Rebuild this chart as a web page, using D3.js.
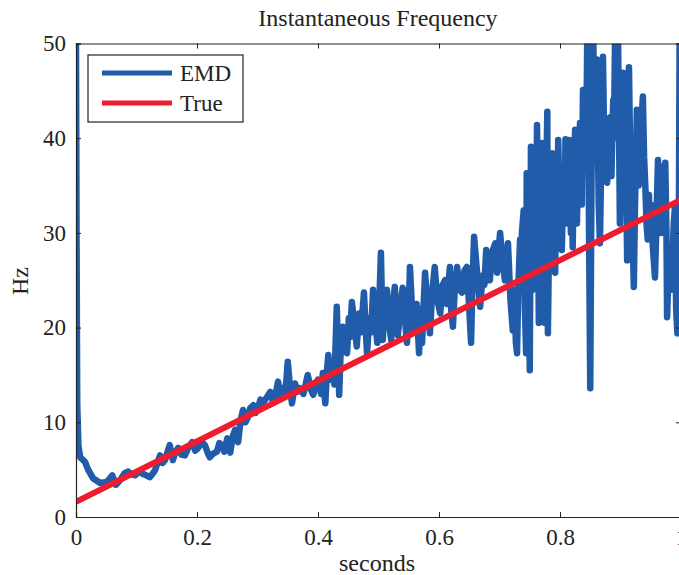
<!DOCTYPE html>
<html>
<head>
<meta charset="utf-8">
<script src="https://cdn.jsdelivr.net/npm/d3@7"></script>
<style>
  body { margin: 0; background: #fff; }
  svg text { font-family: "Liberation Serif", "Times New Roman", serif; fill: #222; }
</style>
</head>
<body>
<svg id="chart" width="679" height="575"></svg>
<script>
// tick labels
const xTicks = [0, 0.2, 0.4, 0.6, 0.8, 1];
const yTicks = [0, 10, 20, 30, 40, 50];

// true frequency: straight line, [seconds, Hz] at both ends
const trueLine = [[0, 1.6], [1, 33.5]];

// EMD instantaneous frequency, [seconds, Hz]
const emdStart = [
  [0.000, 50.0], [0.001, 28.0], [0.002, 12.0], [0.004, 7.5], [0.007, 6.3],
  [0.012, 6.0], [0.015, 5.8], [0.020, 5.0], [0.028, 4.1], [0.040, 3.6],
  [0.051, 3.7], [0.060, 4.4], [0.066, 3.4], [0.073, 3.9], [0.080, 4.6],
  [0.086, 4.8], [0.092, 4.5], [0.098, 4.4], [0.104, 4.8], [0.109, 4.6],
  [0.116, 4.4], [0.122, 4.2], [0.127, 4.6], [0.131, 5.0], [0.135, 5.8],
  [0.139, 6.5], [0.143, 5.7], [0.147, 6.0], [0.151, 6.8], [0.155, 7.6],
  [0.160, 6.0], [0.164, 6.8], [0.169, 7.3], [0.174, 6.6], [0.180, 6.5],
  [0.186, 7.4], [0.192, 7.9], [0.197, 7.0], [0.202, 7.3], [0.208, 7.9],
  [0.213, 7.6], [0.217, 6.9], [0.221, 6.3], [0.227, 6.7], [0.233, 6.9],
  [0.237, 7.8], [0.241, 7.6], [0.245, 6.9], [0.250, 8.3], [0.255, 6.8],
  [0.259, 8.5], [0.263, 9.2], [0.268, 7.9], [0.272, 10.2], [0.276, 11.3],
  [0.280, 10.0], [0.284, 10.5], [0.288, 11.5], [0.293, 11.8], [0.297, 11.0],
  [0.301, 11.6], [0.305, 12.4], [0.309, 12.1], [0.315, 12.6], [0.321, 13.2],
  [0.325, 12.3], [0.329, 12.7], [0.334, 14.3], [0.338, 12.8], [0.342, 13.6],
  [0.346, 13.0], [0.350, 16.4], [0.354, 13.5], [0.357, 12.0], [0.362, 14.1],
  [0.366, 13.2], [0.370, 13.6], [0.376, 13.0], [0.383, 15.0], [0.388, 13.5],
  [0.392, 12.9], [0.396, 13.8]
];
const emdMid = [
  [0.400, 14.5], [0.405, 13.0], [0.408, 15.2], [0.412, 12.0], [0.415, 15.5],
  [0.417, 17.1], [0.420, 14.5], [0.423, 16.0], [0.427, 14.0], [0.431, 22.2],
  [0.433, 18.0], [0.435, 12.9], [0.438, 18.5], [0.441, 20.1], [0.444, 17.5],
  [0.448, 17.3], [0.451, 21.0], [0.453, 19.0], [0.456, 22.7], [0.460, 20.5],
  [0.464, 18.0], [0.468, 21.5], [0.471, 19.5], [0.476, 23.7], [0.478, 21.0],
  [0.481, 17.3], [0.485, 21.0], [0.488, 19.5], [0.491, 24.0], [0.494, 21.0],
  [0.498, 18.4], [0.501, 22.0], [0.504, 27.9], [0.507, 18.7], [0.510, 22.5],
  [0.514, 24.0], [0.517, 20.5], [0.521, 18.7], [0.524, 22.5], [0.527, 24.3],
  [0.530, 21.0], [0.532, 19.2], [0.536, 22.0], [0.540, 24.2], [0.543, 21.5],
  [0.547, 18.4], [0.550, 22.0], [0.552, 26.4], [0.555, 22.5], [0.559, 19.7],
  [0.563, 22.5], [0.567, 17.3], [0.570, 22.0], [0.572, 18.4], [0.575, 23.0],
  [0.577, 25.8], [0.581, 22.0], [0.585, 19.4], [0.589, 24.0], [0.593, 26.4],
  [0.597, 23.0], [0.602, 21.5], [0.606, 24.5], [0.610, 25.0], [0.613, 22.5],
  [0.618, 26.4], [0.620, 22.0], [0.623, 20.1], [0.626, 24.0], [0.630, 26.4],
  [0.634, 24.0], [0.638, 23.7], [0.642, 26.0], [0.646, 26.4], [0.650, 22.0],
  [0.653, 18.4], [0.655, 24.0], [0.658, 29.6], [0.662, 26.5], [0.668, 22.2],
  [0.672, 25.5], [0.675, 24.5], [0.678, 28.2], [0.681, 26.0], [0.684, 25.0],
  [0.688, 28.0], [0.693, 28.9], [0.696, 25.8], [0.699, 28.5], [0.701, 30.0],
  [0.705, 27.0], [0.709, 25.0], [0.712, 27.5], [0.714, 28.9], [0.718, 23.0],
  [0.722, 19.7], [0.725, 24.0], [0.727, 18.5], [0.729, 17.3], [0.731, 24.0]
];
const emdEnd = [
  [0.734, 29.3], [0.736, 24.0], [0.737, 30.0], [0.740, 32.4], [0.742, 22.0],
  [0.744, 17.3], [0.745, 36.3], [0.747, 26.0], [0.748, 30.0], [0.750, 15.5],
  [0.752, 39.1], [0.754, 28.0], [0.755, 24.0], [0.757, 34.0], [0.758, 36.0],
  [0.760, 27.0], [0.762, 41.4], [0.764, 30.0], [0.765, 20.5], [0.767, 33.0],
  [0.768, 36.5], [0.770, 39.5], [0.772, 30.0], [0.773, 27.0], [0.775, 20.5],
  [0.777, 35.0], [0.779, 42.8], [0.780, 19.4], [0.782, 30.0], [0.783, 34.0],
  [0.785, 31.0], [0.786, 37.5], [0.788, 38.4], [0.790, 30.0], [0.792, 25.8],
  [0.794, 36.0], [0.796, 32.0], [0.797, 39.8], [0.799, 34.0], [0.800, 31.0],
  [0.802, 36.0], [0.803, 28.2], [0.805, 34.0], [0.806, 37.0], [0.808, 32.0],
  [0.809, 39.9], [0.811, 34.0], [0.812, 31.0], [0.814, 37.0], [0.815, 39.8],
  [0.817, 33.0], [0.818, 30.0], [0.820, 35.0], [0.821, 28.5], [0.823, 37.0],
  [0.825, 40.9], [0.827, 34.0], [0.828, 31.0], [0.830, 38.0], [0.832, 35.0],
  [0.833, 41.6], [0.835, 37.0], [0.836, 33.0], [0.838, 45.1], [0.840, 38.0],
  [0.841, 42.0], [0.843, 37.0], [0.845, 50.5], [0.847, 40.0], [0.848, 30.0],
  [0.850, 13.6], [0.852, 35.0], [0.853, 42.0], [0.855, 50.5], [0.857, 42.0],
  [0.858, 46.0], [0.861, 48.3], [0.863, 38.0], [0.864, 33.0], [0.866, 28.9],
  [0.868, 37.0], [0.869, 42.0], [0.871, 48.6], [0.873, 40.0], [0.875, 36.0],
  [0.876, 40.0], [0.878, 35.3], [0.880, 40.0], [0.881, 37.0], [0.883, 42.2],
  [0.885, 36.0], [0.886, 39.0], [0.888, 44.0], [0.889, 40.0], [0.891, 50.5],
  [0.893, 43.0], [0.894, 46.0], [0.896, 50.5], [0.898, 38.0], [0.899, 31.0],
  [0.901, 38.0], [0.902, 42.0], [0.904, 46.9], [0.906, 38.0], [0.907, 34.0],
  [0.909, 38.0], [0.911, 27.1], [0.913, 40.0], [0.914, 47.5], [0.916, 38.0],
  [0.918, 34.0], [0.920, 30.0], [0.922, 24.3], [0.924, 33.0], [0.925, 36.0],
  [0.927, 43.0], [0.929, 38.0], [0.930, 35.0], [0.932, 35.6], [0.934, 39.0],
  [0.935, 42.0], [0.937, 44.4], [0.939, 38.0], [0.941, 35.0], [0.943, 31.0],
  [0.945, 29.3], [0.947, 34.0], [0.948, 32.0], [0.950, 33.0], [0.952, 30.0],
  [0.954, 28.0], [0.957, 25.3], [0.959, 30.0], [0.960, 33.0], [0.962, 37.7],
  [0.964, 33.0], [0.965, 30.0], [0.967, 35.0], [0.969, 37.0], [0.971, 30.0],
  [0.972, 33.0], [0.974, 37.4], [0.976, 30.0], [0.977, 21.1], [0.979, 25.0],
  [0.981, 28.0], [0.983, 24.0], [0.985, 25.8], [0.987, 29.0], [0.988, 31.0],
  [0.990, 32.7], [0.992, 22.0], [0.994, 19.4], [0.996, 24.0], [0.998, 55.0]
];

const margin = { left: 76, top: 43.5, right: 681, bottom: 517 };

const svg = d3.select("#chart");

const x = d3.scaleLinear().domain([0, 1]).range([margin.left, margin.right]);
const y = d3.scaleLinear().domain([0, 50]).range([margin.bottom, margin.top]);

svg.append("clipPath").attr("id", "plotclip")
  .append("rect")
  .attr("x", margin.left).attr("y", margin.top)
  .attr("width", margin.right - margin.left)
  .attr("height", margin.bottom - margin.top);

const plot = svg.append("g").attr("clip-path", "url(#plotclip)");

const line = d3.line().x(d => x(d[0])).y(d => y(d[1]));

const emdData = emdStart.concat(emdMid, emdEnd);

plot.append("path")
  .datum(emdData)
  .attr("d", line)
  .attr("fill", "none")
  .attr("stroke", "#205caa")
  .attr("stroke-width", 6.5)
  .attr("stroke-linejoin", "round")
  .attr("stroke-linecap", "round");

plot.append("path")
  .datum(trueLine)
  .attr("d", line)
  .attr("fill", "none")
  .attr("stroke", "#ed1c2e")
  .attr("stroke-width", 6);

// axes, MATLAB style box with inward ticks
const fmt = d => d === 0 || d === 1 ? String(d) : d3.format(".1f")(d);

svg.append("g")
  .attr("transform", "translate(0," + margin.bottom + ")")
  .call(d3.axisBottom(x).tickValues(xTicks).tickSize(-5).tickPadding(12).tickFormat(fmt));
svg.append("g")
  .attr("transform", "translate(0," + margin.top + ")")
  .call(d3.axisTop(x).tickValues(xTicks).tickSize(-5).tickFormat(""));
svg.append("g")
  .attr("transform", "translate(" + margin.left + ",0)")
  .call(d3.axisLeft(y).tickValues(yTicks).tickSize(-5).tickPadding(10));
svg.append("g")
  .attr("transform", "translate(" + margin.right + ",0)")
  .call(d3.axisRight(y).tickValues(yTicks).tickSize(-5).tickFormat(""));

svg.selectAll(".domain").attr("stroke", "#222").attr("stroke-width", 1.2);
svg.selectAll(".tick line").attr("stroke", "#222");
svg.selectAll(".tick text")
  .style("font-family", "'Liberation Serif', serif")
  .style("font-size", "23px")
  .attr("fill", "#222");

// titles
svg.append("text")
  .attr("x", 378).attr("y", 26)
  .attr("text-anchor", "middle")
  .style("font-size", "24px")
  .text("Instantaneous Frequency");

svg.append("text")
  .attr("x", 377).attr("y", 571)
  .attr("text-anchor", "middle")
  .style("font-size", "24px")
  .text("seconds");

svg.append("text")
  .attr("transform", "translate(28,281) rotate(-90)")
  .attr("text-anchor", "middle")
  .style("font-size", "24px")
  .text("Hz");

// legend
const legend = svg.append("g");
legend.append("rect")
  .attr("x", 88).attr("y", 55)
  .attr("width", 155).attr("height", 67)
  .attr("fill", "#fff")
  .attr("stroke", "#222")
  .attr("stroke-width", 1.2);

const legendItems = [
  { label: "EMD", color: "#205caa" },
  { label: "True", color: "#ed1c2e" }
];
legendItems.forEach((d, i) => {
  const ly = 73 + i * 30;
  legend.append("line")
    .attr("x1", 102).attr("x2", 172)
    .attr("y1", ly).attr("y2", ly)
    .attr("stroke", d.color)
    .attr("stroke-width", 5);
  legend.append("text")
    .attr("x", 180).attr("y", ly + 8)
    .style("font-size", "23px")
    .text(d.label);
});
</script>
</body>
</html>
